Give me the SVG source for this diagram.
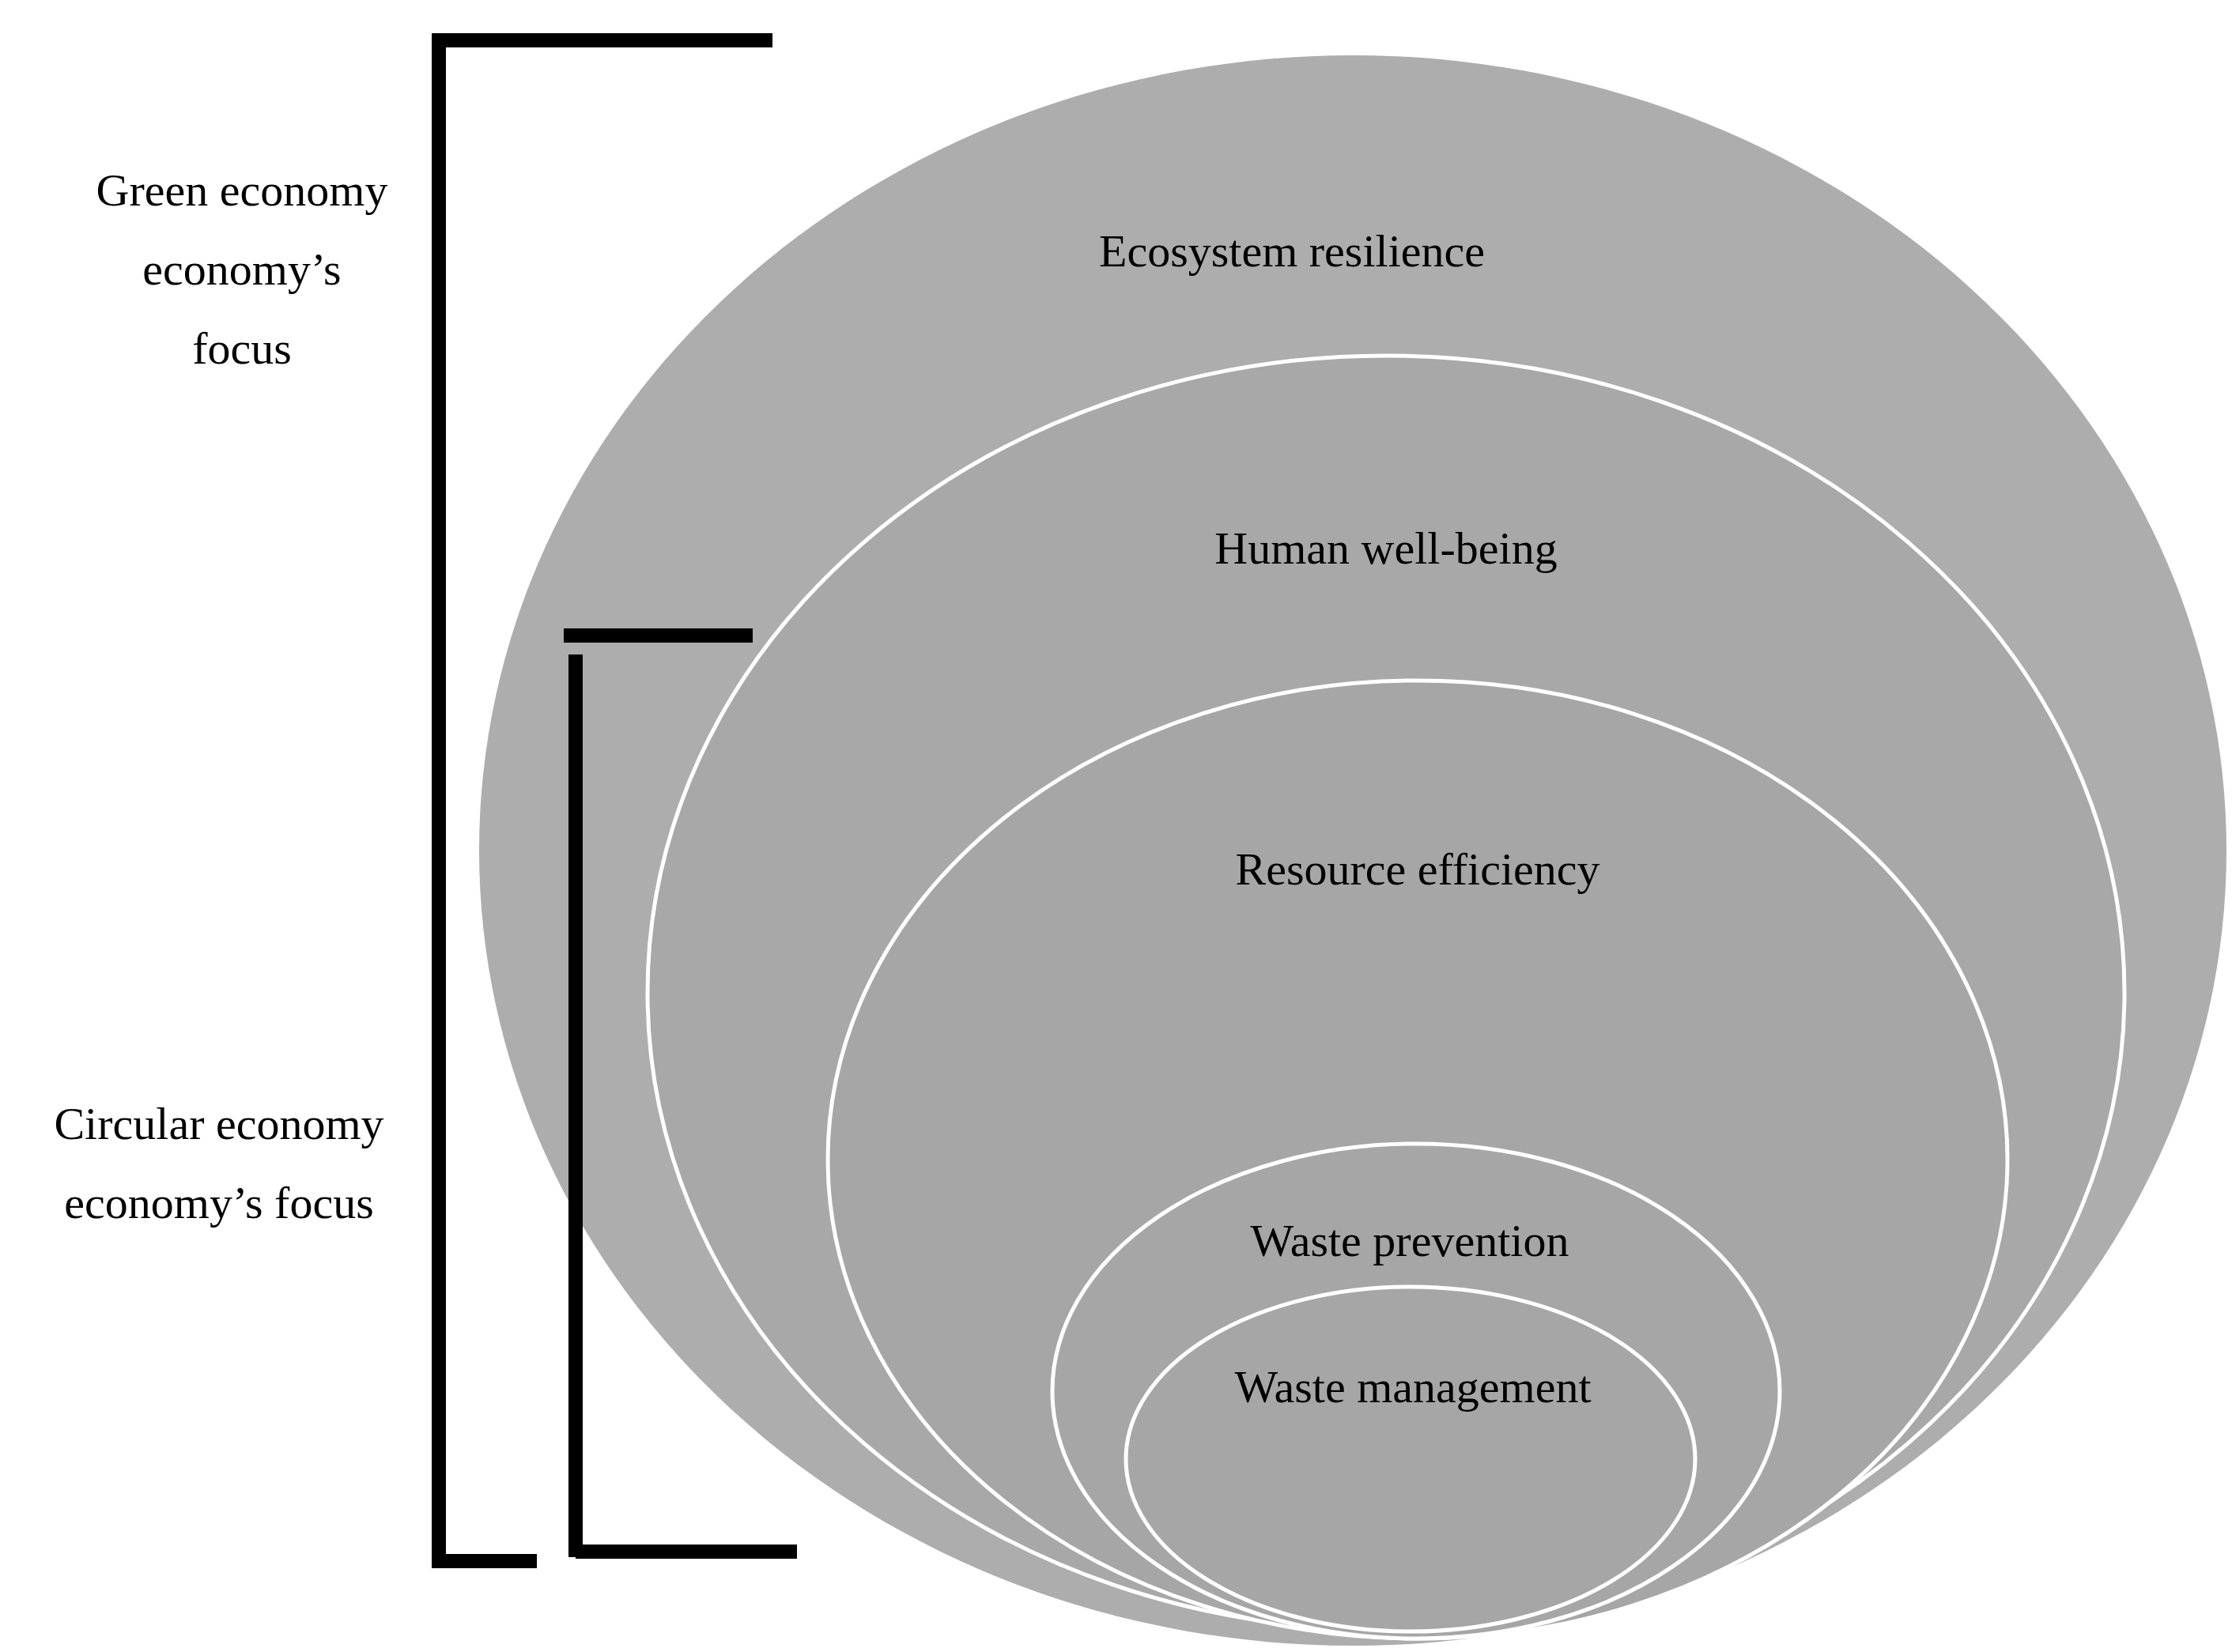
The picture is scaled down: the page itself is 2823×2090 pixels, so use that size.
<svg xmlns="http://www.w3.org/2000/svg" width="2823" height="2090" viewBox="0 0 2823 2090">
<style>
.t{font-family:"Liberation Serif",serif;font-size:58px;fill:#000;text-anchor:middle}
.e{stroke:#fff;stroke-width:5}
.b{stroke:#000;stroke-width:18;fill:none}
</style>
<rect width="2823" height="2090" fill="#fff"/>
<g id="ecosystem"><ellipse cx="1711" cy="1076" rx="1105" ry="1006" fill="#adadad"/><text class="t" x="1634" y="337">Ecosystem resilience</text></g>
<g id="human"><ellipse class="e" cx="1753" cy="1256" rx="934" ry="806" fill="#a8a8a8"/><text class="t" x="1753" y="713">Human well-being</text></g>
<g id="resource"><ellipse class="e" cx="1793" cy="1467" rx="746" ry="606" fill="#a6a6a6"/><text class="t" x="1793" y="1119">Resource efficiency</text></g>
<g id="prevention"><ellipse class="e" cx="1791" cy="1760" rx="460" ry="313" fill="#a6a6a6"/><text class="t" x="1783" y="1589">Waste prevention</text></g>
<g id="management"><ellipse class="e" cx="1784" cy="1846" rx="360" ry="218" fill="#a6a6a6"/><text class="t" x="1787" y="1774">Waste management</text></g>
<g id="connectors">
<path class="b" d="M977 51 H555 V1975 H679"/>
<path class="b" d="M713 804 H952"/>
<path class="b" d="M728 828 V1970 M728 1963 H1008"/>
</g>
<g id="green-label"><text class="t" x="306" y="260">Green economy</text><text class="t" x="306" y="360">economy’s</text><text class="t" x="306" y="460">focus</text></g>
<g id="circular-label"><text class="t" x="277" y="1441">Circular economy</text><text class="t" x="277" y="1541">economy’s focus</text></g>
</svg>
